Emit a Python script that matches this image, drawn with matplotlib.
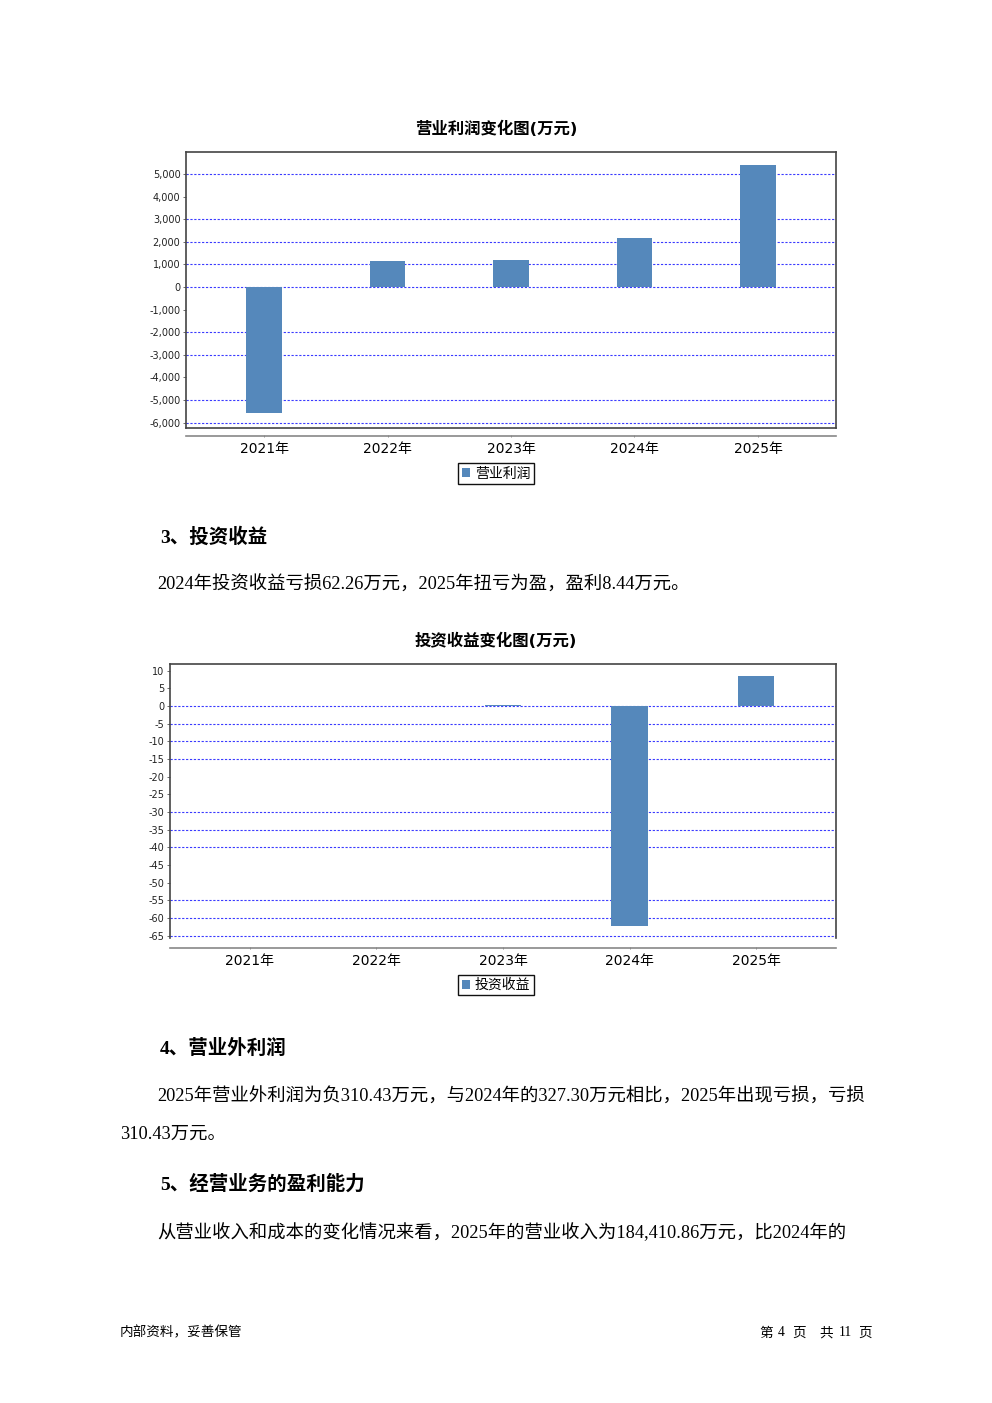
import matplotlib
matplotlib.use('Agg')
import matplotlib.pyplot as plt
from matplotlib.patches import Patch
from matplotlib.lines import Line2D

W, H = 992, 1403

# datos de los graficos
years = ['2021年', '2022年', '2023年', '2024年', '2025年']
op_profit = [-5580, 1150, 1190, 2170, 5400]          # 营业利润 (万元)
inv_income = [0, 0, 0.3, -62.26, 8.44]               # 投资收益 (万元)

op_ticks = list(range(-6000, 6000, 1000))
op_grid = [5000, 3000, 2000, 1000, 0, -2000, -3000, -5000, -6000]
inv_ticks = list(range(-65, 11, 5))
inv_grid = [0, -5, -10, -15, -30, -35, -40, -55, -60, -65]

BAR = '#5588bb'
GRID = '#3a3aff'
CJK = ['DejaVu Sans', 'Noto Sans CJK SC']
SERIF = ['Liberation Serif', 'Noto Sans CJK SC']

plt.rcParams['font.family'] = CJK

fig = plt.figure(figsize=(W / 100, H / 100), dpi=100)


def box(l, t, r, b):
    return [l / W, 1 - b / H, (r - l) / W, (b - t) / H]


def txt(x, y, s, size, weight='normal', family=SERIF, ha='left'):
    fig.text(x / W, 1 - y / H, s, fontsize=size, fontweight=weight,
             family=family, ha=ha, va='center')


def bar_chart(rect, vals, ylim, ticks, grid, fmt, cat_off, bottom_edge, legend_y, label):
    ax = fig.add_axes(box(*rect))
    x = list(range(len(years)))
    ax.bar(x, vals, width=0.29, color=BAR, edgecolor='none', zorder=3)
    for g in grid:
        ax.axhline(g, color=GRID, lw=0.8, ls=(0, (2, 1.5)), zorder=2)
    ax.set_xlim(-0.632, 4.632)
    ax.set_ylim(*ylim)
    ax.set_yticks(ticks)
    ax.set_yticklabels([fmt(t) for t in ticks], fontsize=7, color='#222222')
    ax.tick_params(axis='y', length=2, width=0.6, pad=2, color='#555555')
    ax.set_xticks(x)
    ax.set_xticklabels(years, fontsize=8.5, color='#222222')
    ax.tick_params(axis='x', length=2, width=0.6, direction='inout', pad=3.5, color='#777777')
    for s in ['top', 'left', 'right']:
        ax.spines[s].set_visible(False)
    ax.spines['bottom'].set_position(('outward', cat_off))
    ax.spines['bottom'].set_color('#888888')
    ax.spines['bottom'].set_linewidth(1.2)
    # marco del area de trazado
    c = '#444444'
    ax.add_line(Line2D([0, 0], [0, 1], transform=ax.transAxes, color=c, lw=1.2, clip_on=False))
    ax.add_line(Line2D([1, 1], [0, 1], transform=ax.transAxes, color=c, lw=1.2, clip_on=False))
    ax.add_line(Line2D([0, 1], [1, 1], transform=ax.transAxes, color=c, lw=1.2, clip_on=False))
    if bottom_edge:
        ax.add_line(Line2D([0, 1], [0, 0], transform=ax.transAxes, color=c, lw=1.2, clip_on=False))
    h = Patch(facecolor=BAR, edgecolor='none')
    leg = ax.legend([h], [label], loc='center', bbox_to_anchor=(496 / W, 1 - legend_y / H),
                    bbox_transform=fig.transFigure, prop={'size': 10},
                    fancybox=False, edgecolor='#111111', handlelength=0.6, handleheight=0.6,
                    handletextpad=0.35, borderpad=0.25, borderaxespad=0, framealpha=1)
    leg.get_frame().set_linewidth(1.0)
    return ax


# grafico 1: 营业利润
txt(496, 129, '营业利润变化图(万元)', 11.8, 'bold', CJK, 'center')
bar_chart((186, 152, 836, 428), op_profit, (-6239, 5973), op_ticks, op_grid,
          lambda t: f'{t:,}', 5.8, True, 473.5, '营业利润')

# grafico 2: 投资收益
txt(496, 641, '投资收益变化图(万元)', 11.8, 'bold', CJK, 'center')
bar_chart((170, 664, 836, 938), inv_income, (-65.7, 11.9), inv_ticks, inv_grid,
          lambda t: f'{t}', 7.2, False, 985, '投资收益')

# texto de la pagina
txt(160, 537, '3、投资收益', 14, 'bold', SERIF)
txt(157, 585, '2024年投资收益亏损62.26万元，2025年扭亏为盈，盈利8.44万元。', 13.2)
txt(160, 1048, '4、营业外利润', 14, 'bold', SERIF)
txt(157, 1097, '2025年营业外利润为负310.43万元，与2024年的327.30万元相比，2025年出现亏损，亏损', 13.2)
txt(120, 1134, '310.43万元。', 13.2)
txt(160, 1184, '5、经营业务的盈利能力', 14, 'bold', SERIF)
txt(157, 1233, '从营业收入和成本的变化情况来看，2025年的营业收入为184,410.86万元，比2024年的', 13.2)

# pie de pagina
txt(120, 1333, '内部资料，妥善保管', 9.8, family=SERIF)
for xc, s in [(766, '第'), (781, '4'), (799, '页'), (826, '共'), (845, '11'), (865, '页')]:
    txt(xc, 1333, s, 9.8, family=SERIF, ha='center')

fig.savefig('out.png', dpi=100)
